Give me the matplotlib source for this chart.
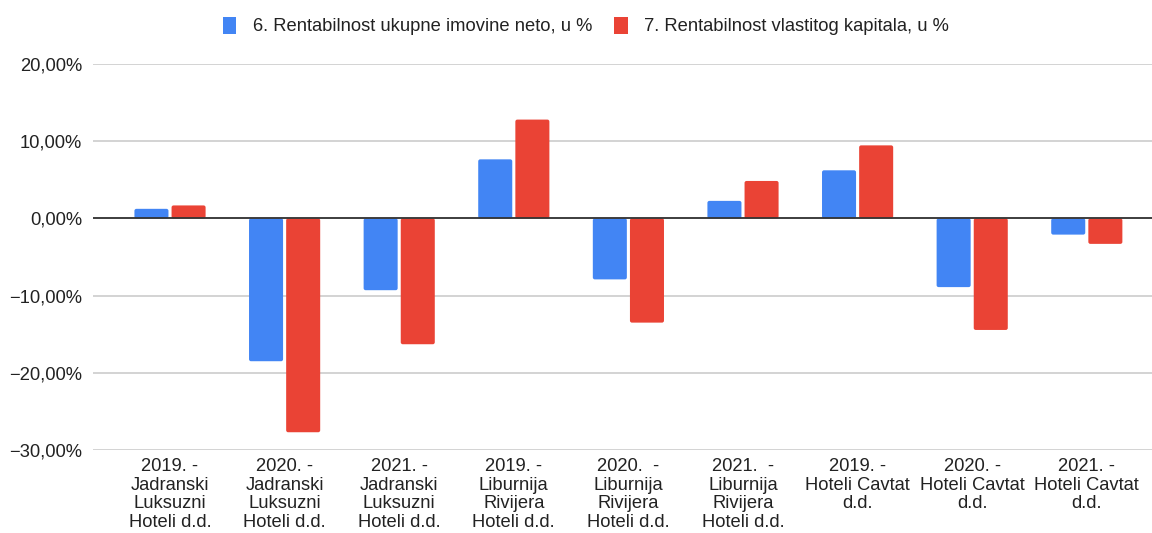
import matplotlib
matplotlib.use("Agg")
import matplotlib.pyplot as plt
from matplotlib.patches import Patch, FancyBboxPatch
from matplotlib.ticker import FuncFormatter, FixedLocator
import numpy as np

categories = [
    "2019. -\nJadranski\nLuksuzni\nHoteli d.d.",
    "2020. -\nJadranski\nLuksuzni\nHoteli d.d.",
    "2021. -\nJadranski\nLuksuzni\nHoteli d.d.",
    "2019. -\nLiburnija\nRivijera\nHoteli d.d.",
    "2020.  -\nLiburnija\nRivijera\nHoteli d.d.",
    "2021.  -\nLiburnija\nRivijera\nHoteli d.d.",
    "2019. -\nHoteli Cavtat\nd.d.",
    "2020. -\nHoteli Cavtat\nd.d.",
    "2021. -\nHoteli Cavtat\nd.d.",
]
roa = [1.24, -18.5, -9.3, 7.65, -7.9, 2.27, 6.23, -8.9, -2.1]
roe = [1.68, -27.7, -16.3, 12.8, -13.5, 4.85, 9.46, -14.45, -3.3]
series_names = ["6. Rentabilnost ukupne imovine neto, u %",
                "7. Rentabilnost vlastitog kapitala, u %"]
yticks = [-30, -20, -10, 0, 10, 20]

BLUE = "#4285F4"
RED = "#EA4335"
FS = 13.2

plt.rcParams['font.family'] = ['Liberation Sans', 'DejaVu Sans']

W, H = 1152, 533
fig = plt.figure(figsize=(W / 100, H / 100), dpi=100)
ax = fig.add_axes([93 / W, (H - 450) / H, (W - 93) / W, (450 - 64) / H])

ax.set_xlim(-0.672, 8.569)
ax.set_ylim(-30, 20)

x = np.arange(len(categories))
bw = 0.297
off = 0.162
bars_a = ax.bar(x - off, roa, width=bw, color=BLUE, zorder=3)
bars_b = ax.bar(x + off, roe, width=bw, color=RED, zorder=3)

# rounded corners (~2 px)
ax_w_px = W - 93
ax_h_px = 450 - 64
px_per_x = ax_w_px / (8.569 + 0.672)
px_per_y = ax_h_px / 50.0
r = 2.0 / px_per_x
aspect = px_per_x / px_per_y
for container in (bars_a, bars_b):
    for b in container:
        bx, by = b.get_x(), b.get_y()
        bwid, bh = b.get_width(), b.get_height()
        y0 = min(by, by + bh)
        h = abs(bh)
        fp = FancyBboxPatch((bx, y0), bwid, h,
                            boxstyle=f"round,pad=0,rounding_size={r}",
                            mutation_aspect=aspect,
                            facecolor=b.get_facecolor(), edgecolor='none', zorder=3)
        b.set_visible(False)
        ax.add_patch(fp)

ax.yaxis.set_major_locator(FixedLocator(yticks))

def fmt(v, pos):
    s = f"{abs(v):.2f}".replace(".", ",") + "%"
    return ("\u2212" + s) if v < 0 else s
ax.yaxis.set_major_formatter(FuncFormatter(fmt))

ax.grid(axis='y', color='#cccccc', linewidth=1.2, zorder=0)
ax.axhline(0, color='#333333', linewidth=1.3, zorder=4)
for s in ax.spines.values():
    s.set_visible(False)
ax.tick_params(axis='y', length=0, pad=8, labelsize=FS, labelcolor='#222222')
ax.tick_params(axis='x', length=0, pad=6, labelsize=FS, labelcolor='#222222')
ax.set_xticks(x)
ax.set_xticklabels(categories, linespacing=1.12, va='top')

handles = [Patch(facecolor=BLUE, edgecolor='none'), Patch(facecolor=RED, edgecolor='none')]
fig.legend(handles, series_names, loc='center', bbox_to_anchor=(586 / W, 1 - 26 / H),
           ncol=2, frameon=False, fontsize=FS, handlelength=0.75, handleheight=1.05,
           handletextpad=0.9, columnspacing=1.2, labelcolor='#222222')

fig.savefig("out.png", dpi=100)
